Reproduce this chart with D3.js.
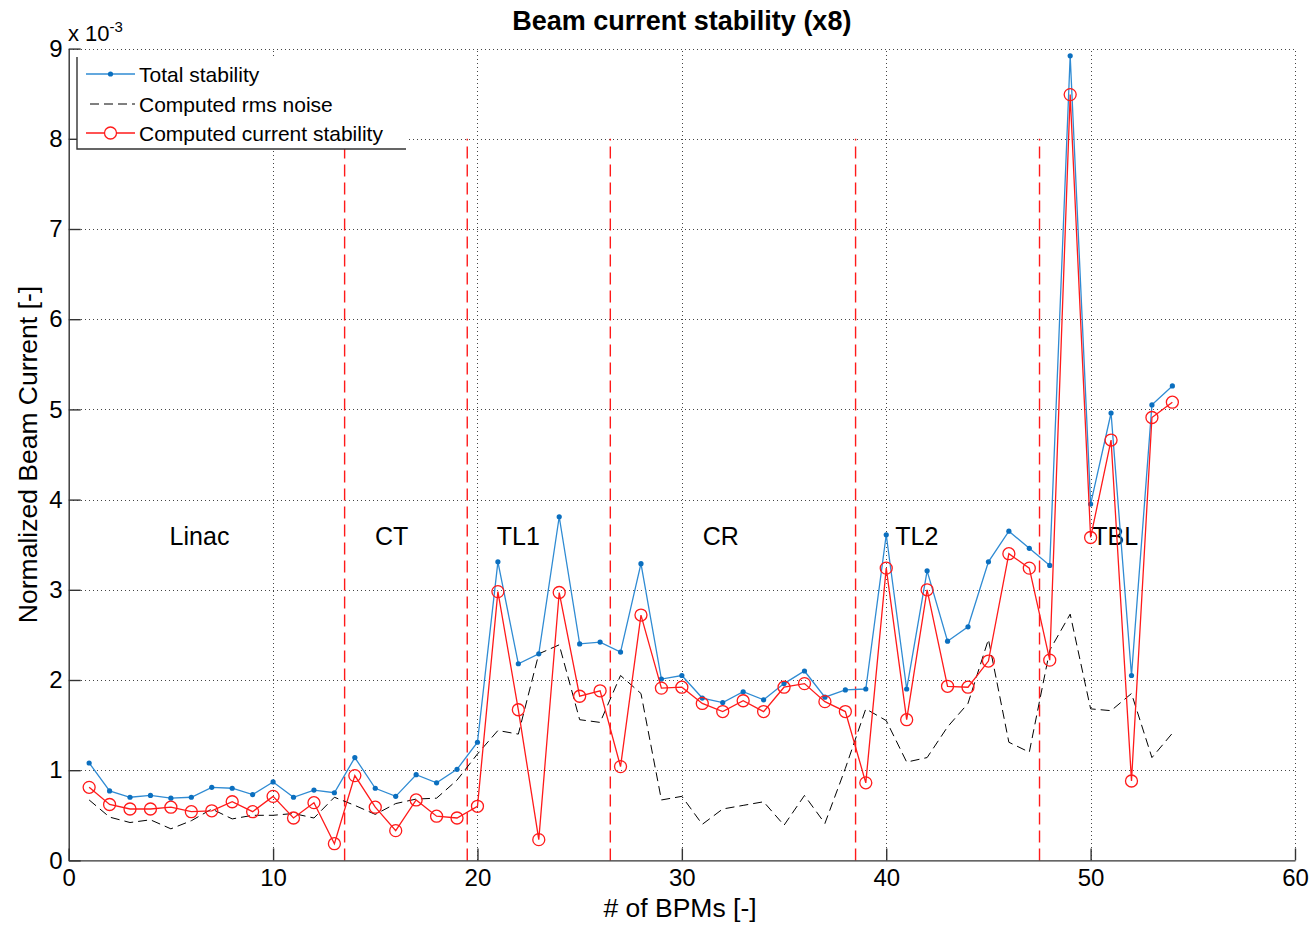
<!DOCTYPE html>
<html>
<head>
<meta charset="utf-8">
<script src="https://cdn.jsdelivr.net/npm/d3@7"></script>
<style>
  html, body { margin: 0; padding: 0; background: #fff; }
  svg { display: block; font-family: "Liberation Sans", Arial, Helvetica, sans-serif; }
</style>
</head>
<body>
<svg id="chart" width="1312" height="927"></svg>
<script>
// BPM index along the beam line
const bpm = [1,2,3,4,5,6,7,8,9,10,11,12,13,14,15,16,17,18,19,20,
             21,22,23,24,25,26,27,28,29,30,31,32,33,34,35,36,37,38,39,40,
             41,42,43,44,45,46,47,48,49,50,51,52,53,54];

// Normalized beam current, in units of 1e-3
const totalStability = [1.08,0.77,0.70,0.72,0.69,0.70,0.81,0.80,0.73,0.87,
                        0.70,0.78,0.75,1.14,0.80,0.71,0.95,0.86,1.01,1.31,
                        3.31,2.18,2.29,3.81,2.40,2.42,2.31,3.29,2.01,2.05,
                        1.80,1.75,1.87,1.78,1.96,2.10,1.81,1.89,1.90,3.61,
                        1.90,3.21,2.43,2.59,3.31,3.65,3.46,3.27,8.92,3.95,
                        4.96,2.05,5.05,5.26];

const rmsNoise = [0.67,0.48,0.42,0.45,0.35,0.44,0.57,0.46,0.50,0.50,
                  0.52,0.47,0.70,0.61,0.51,0.63,0.68,0.69,0.89,1.18,
                  1.44,1.40,2.29,2.39,1.56,1.53,2.05,1.85,0.67,0.71,
                  0.40,0.57,0.61,0.65,0.39,0.72,0.41,1.02,1.68,1.55,
                  1.09,1.14,1.48,1.74,2.45,1.31,1.20,2.33,2.73,1.68,
                  1.66,1.85,1.14,1.41];

const currentStability = [0.81,0.62,0.57,0.57,0.59,0.54,0.55,0.65,0.54,0.71,
                          0.47,0.64,0.185,0.94,0.59,0.33,0.67,0.49,0.47,0.60,
                          2.98,1.67,0.23,2.97,1.82,1.88,1.04,2.72,1.91,1.92,
                          1.74,1.65,1.77,1.65,1.92,1.96,1.76,1.65,0.86,3.24,
                          1.56,3.00,1.93,1.92,2.21,3.40,3.24,2.22,8.49,3.58,
                          4.66,0.88,4.91,5.08];

// Section boundaries (between BPMs) and section names
const sectionBounds = [13.5, 19.5, 26.5, 38.5, 47.5];
const boundTop = 8;
const sectionNames = ["Linac", "CT", "TL1", "CR", "TL2", "TBL"];
const sectionCenters = [6.4, 15.8, 22.0, 31.9, 41.5, 51.2];
const sectionLevel = 3.6;

const xTicks = [0, 10, 20, 30, 40, 50, 60];
const yTicks = [0, 1, 2, 3, 4, 5, 6, 7, 8, 9];

const seriesNames = ["Total stability", "Computed rms noise", "Computed current stability"];

const svg = d3.select("#chart");
const plotLeft = 68.7, plotRight = 1295, plotTop = 48.6, plotBottom = 860.4;

const x = d3.scaleLinear().domain([0, 60]).range([plotLeft, plotRight]);
const y = d3.scaleLinear().domain([0, 9]).range([plotBottom, plotTop]);

const axisColor = "#333";
const blueLine = "#2f8bd3";
const blueMark = "#0b6fbf";
const red = "#ff1a1a";

// Dotted grid
const grid = svg.append("g").attr("stroke", "#444").attr("stroke-width", 1)
  .attr("stroke-dasharray", "1,3").attr("shape-rendering", "crispEdges");
grid.selectAll("line.gx").data(xTicks.filter(d => d > 0)).join("line")
  .attr("x1", d => Math.round(x(d)) + 0.5).attr("x2", d => Math.round(x(d)) + 0.5)
  .attr("y1", y(0)).attr("y2", y(9));
grid.selectAll("line.gy").data(yTicks.filter(d => d > 0)).join("line")
  .attr("x1", x(0)).attr("x2", x(60))
  .attr("y1", d => Math.round(y(d)) + 0.5).attr("y2", d => Math.round(y(d)) + 0.5);

// Section boundaries
svg.append("g").selectAll("line").data(sectionBounds).join("line")
  .attr("x1", d => x(d)).attr("x2", d => x(d))
  .attr("y1", y(0)).attr("y2", y(boundTop))
  .attr("stroke", red).attr("stroke-width", 1.4).attr("stroke-dasharray", "12,6");

// Section names
svg.append("g").selectAll("text").data(sectionNames).join("text")
  .attr("x", (d, i) => x(sectionCenters[i])).attr("y", y(sectionLevel) + 9)
  .attr("text-anchor", "middle").attr("font-size", 25).attr("fill", "#000")
  .text(d => d);

const line = d3.line().x((d, i) => x(bpm[i])).y(d => y(d));

// Computed rms noise
svg.append("path").datum(rmsNoise).attr("d", line)
  .attr("fill", "none").attr("stroke", "#000").attr("stroke-width", 1)
  .attr("stroke-dasharray", "9,5");

// Total stability
svg.append("path").datum(totalStability).attr("d", line)
  .attr("fill", "none").attr("stroke", blueLine).attr("stroke-width", 1.3);
svg.append("g").selectAll("circle").data(totalStability).join("circle")
  .attr("cx", (d, i) => x(bpm[i])).attr("cy", d => y(d)).attr("r", 2.6)
  .attr("fill", blueMark);

// Computed current stability
svg.append("path").datum(currentStability).attr("d", line)
  .attr("fill", "none").attr("stroke", red).attr("stroke-width", 1.3);
svg.append("g").selectAll("circle").data(currentStability).join("circle")
  .attr("cx", (d, i) => x(bpm[i])).attr("cy", d => y(d)).attr("r", 6)
  .attr("fill", "none").attr("stroke", red).attr("stroke-width", 1.3);

// Axes (ticks point inwards)
const xAxis = d3.axisBottom(x).tickValues(xTicks).tickSizeInner(-12).tickSizeOuter(0).tickPadding(9);
const yAxis = d3.axisLeft(y).tickValues(yTicks).tickSizeInner(-12).tickSizeOuter(0).tickPadding(6);

const gx = svg.append("g").attr("transform", `translate(0,${plotBottom})`).call(xAxis);
const gy = svg.append("g").attr("transform", `translate(${plotLeft},0)`).call(yAxis);
[gx, gy].forEach(g => {
  g.select(".domain").attr("stroke", axisColor).attr("stroke-width", 1.4);
  g.selectAll(".tick line").attr("stroke", axisColor).attr("stroke-width", 1.4);
  g.selectAll(".tick text").attr("font-size", 24).attr("fill", "#000")
    .attr("font-family", "Liberation Sans, Arial, sans-serif");
});

// Exponent label
const expo = svg.append("text").attr("x", 68).attr("y", 41).attr("font-size", 22).attr("fill", "#000");
expo.append("tspan").text("x 10");
expo.append("tspan").attr("dy", -9).attr("font-size", 15).text("-3");

// Title and axis labels
svg.append("text").attr("x", (plotLeft + plotRight) / 2).attr("y", 30)
  .attr("text-anchor", "middle").attr("font-size", 27).attr("font-weight", "bold")
  .text("Beam current stability (x8)");
svg.append("text").attr("x", 680).attr("y", 917)
  .attr("text-anchor", "middle").attr("font-size", 26.5).text("# of BPMs [-]");
svg.append("text").attr("transform", `translate(37,${(plotTop + plotBottom) / 2}) rotate(-90)`)
  .attr("text-anchor", "middle").attr("font-size", 26.5).text("Normalized Beam Current [-]");

// Legend
const lg = svg.append("g");
lg.append("rect").attr("x", 77).attr("y", 57).attr("width", 329).attr("height", 92).attr("fill", "#fff");
lg.append("path").attr("d", "M77,57V149H406").attr("fill", "none").attr("stroke", axisColor).attr("stroke-width", 1.4);
const rows = [74, 104, 133];
const lx1 = 86, lx2 = 135, lmid = 110.5;
// row 0: total stability
lg.append("line").attr("x1", lx1).attr("x2", lx2).attr("y1", rows[0]).attr("y2", rows[0])
  .attr("stroke", blueLine).attr("stroke-width", 1.3);
lg.append("circle").attr("cx", lmid).attr("cy", rows[0]).attr("r", 2.6).attr("fill", blueMark);
// row 1: rms noise
lg.append("line").attr("x1", lx1 + 4).attr("x2", lx2).attr("y1", rows[1]).attr("y2", rows[1])
  .attr("stroke", "#000").attr("stroke-width", 1).attr("stroke-dasharray", "9,5");
// row 2: current stability
lg.append("line").attr("x1", lx1).attr("x2", lx2).attr("y1", rows[2]).attr("y2", rows[2])
  .attr("stroke", red).attr("stroke-width", 1.3);
lg.append("circle").attr("cx", lmid).attr("cy", rows[2]).attr("r", 6)
  .attr("fill", "#fff").attr("stroke", red).attr("stroke-width", 1.3);
lg.selectAll("text.lab").data(seriesNames).join("text")
  .attr("x", 139).attr("y", (d, i) => rows[i] + 7.5)
  .attr("font-size", 21).attr("fill", "#000").text(d => d);
</script>
</body>
</html>
